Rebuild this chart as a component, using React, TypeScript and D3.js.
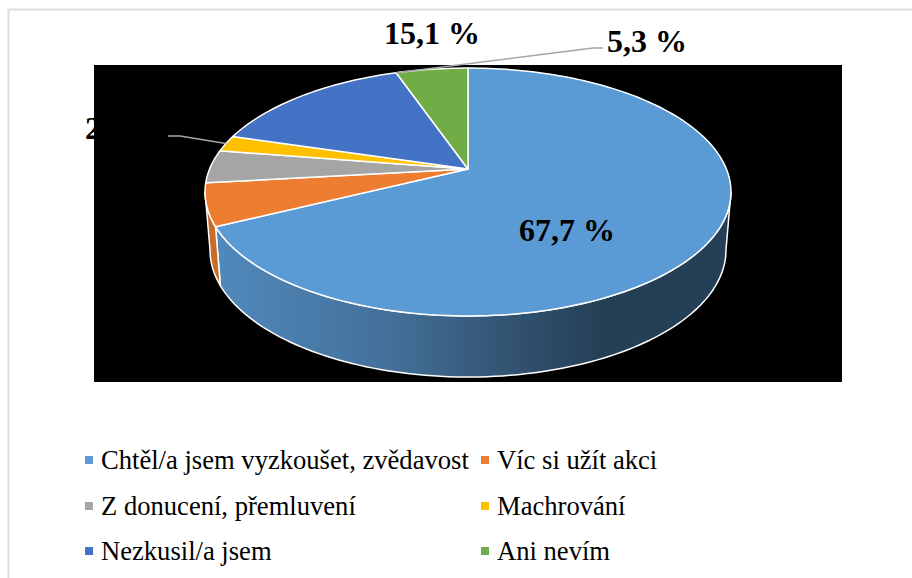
import React from "react";
import * as d3 from "d3";

const categories = ["Chtěl/a jsem vyzkoušet, zvědavost", "Víc si užít akci", "Z donucení, přemluvení", "Machrování", "Nezkusil/a jsem", "Ani nevím"];
const values = [67.7, 5.5, 4.3, 2.1, 15.1, 5.3];
const colors = ["#5B9BD5", "#ED7D31", "#A5A5A5", "#FFC000", "#4472C4", "#70AD47"];
const sideColors = ["url(#sideBlue)", "#C96C2A", "#8C8C8C", "#D9A300", "#3A61A7", "#5F933C"];
const labelTexts = ["67,7 %", "", "", "2,1 %", "15,1 %", "5,3 %"];
const labelPos: [number, number][] = [[519, 241], [0, 0], [0, 0], [85, 139], [384, 44], [607, 52]];
const legendCol = [101, 497];
const legendRow = [469, 515, 560];

const P = 0.1855;
const top = { cx: 468, cy: 169, A: 258.4, B: 119.7 };
const bottom = { cx: 468, cy: 226.5, A: 253.5, B: 122.6 };
const project = (e: typeof top, t: number): [number, number] => {
  const u = Math.sin(t), v = -Math.cos(t), w = 1 - P * v;
  return [e.cx + (e.A * u) / w, e.cy + (e.B * v) / w];
};
const tangentR = Math.acos(-P);
const tangentL = 2 * Math.PI - tangentR;

const arcs = d3.pie<number>().sort(null).value((d) => d)(values);

const arcPts = (e: typeof top, a: number, b: number) => {
  const n = Math.max(2, Math.ceil(Math.abs(b - a) * 40));
  return d3.range(n + 1).map((i) => project(e, a + ((b - a) * i) / n));
};
const line = d3.line();

const topPath = (a: number, b: number) =>
  line([[top.cx, top.cy], ...arcPts(top, a, b)])! + "Z";
const sidePath = (a: number, b: number) =>
  line([...arcPts(top, a, b), ...arcPts(bottom, b, a)])! + "Z";

const serif = '"Liberation Serif", "Times New Roman", serif';

export default function App() {
  return (
    <svg width={912} height={578} style={{ position: "absolute", left: 0, top: 0, background: "#fff" }}>
      <defs>
        <linearGradient id="sideBlue" gradientUnits="userSpaceOnUse" x1={216} x2={600} y1={0} y2={0}>
          <stop offset="0" stopColor="#5089BC" />
          <stop offset="0.45" stopColor="#44709A" />
          <stop offset="0.8" stopColor="#30506D" />
          <stop offset="1" stopColor="#254056" />
        </linearGradient>
      </defs>
      <path d="M8.5,578V9.5H912" fill="none" stroke="#DEDEDE" strokeWidth={2} />
      {labelTexts.map((t, i) =>
        t && i === 3 ? (
          <text key={i} x={labelPos[i][0]} y={labelPos[i][1]} fontFamily={serif} fontWeight="bold" fontSize={32} fill="#000">{t}</text>
        ) : null
      )}
      <rect x={94} y={65} width={748} height={317} fill="#000" />
      {arcs.map((a, i) => {
        const s = Math.max(a.startAngle, tangentR);
        const e = Math.min(a.endAngle, tangentL);
        return e > s ? (
          <path key={i} d={sidePath(s, e)} fill={sideColors[i]} stroke="#fff" strokeWidth={1.5} strokeLinejoin="round" />
        ) : null;
      })}
      {arcs.map((a, i) => (
        <path key={i} d={topPath(a.startAngle, a.endAngle)} fill={colors[i]} stroke="#fff" strokeWidth={1.5} strokeLinejoin="round" />
      ))}
      <path d={line([project(top, (arcs[3].startAngle + arcs[3].endAngle) / 2), [180, 136], [168, 136]])!} fill="none" stroke="#A6A6A6" strokeWidth={1.5} />
      <path d={line([project(top, arcs[5].startAngle), [593, 48], [603, 48]])!} fill="none" stroke="#A6A6A6" strokeWidth={1.5} />
      {labelTexts.map((t, i) =>
        t && i !== 3 ? (
          <text key={i} x={labelPos[i][0]} y={labelPos[i][1]} fontFamily={serif} fontWeight="bold" fontSize={32} fill="#000">{t}</text>
        ) : null
      )}
      {categories.map((c, i) => {
        const x = legendCol[i % 2];
        const y = legendRow[Math.floor(i / 2)];
        return (
          <g key={c}>
            <rect x={x - 16} y={y - 13} width={8} height={8} fill={colors[i]} />
            <text x={x} y={y} fontFamily={serif} fontSize={26.6} fill="#000">{c}</text>
          </g>
        );
      })}
    </svg>
  );
}
